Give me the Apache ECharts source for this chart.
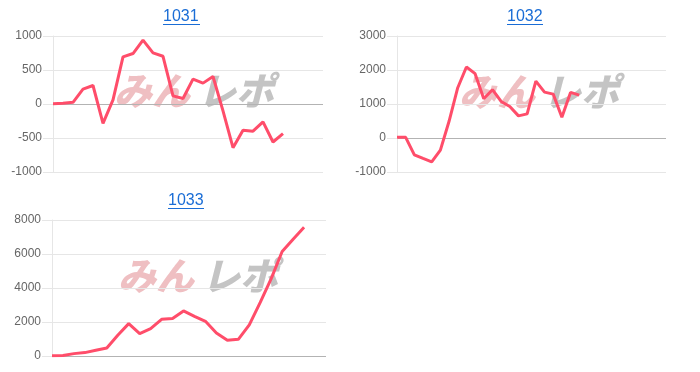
<!DOCTYPE html>
<html><head><meta charset="utf-8">
<script src="https://cdn.jsdelivr.net/npm/echarts@6/dist/echarts.min.js"></script>
<style>html,body{margin:0;padding:0;background:#fff}#c{width:700px;height:372px}</style>
</head><body><div id="c"></div>
<script>
const titles = ['1031', '1032', '1033'];
const categories1 = ['1','2','3','4','5','6','7','8','9','10','11','12','13','14','15','16','17','18','19','20','21','22','23','24','25','26','27','28'];
const categories2 = ['1','2','3','4','5','6','7','8','9','10','11','12','13','14','15','16','17','18','19','20','21','22','23','24','25','26','27','28','29','30','31','32'];
const categories3 = ['1','2','3','4','5','6','7','8','9','10','11','12','13','14','15','16','17','18','19','20','21','22','23','24','25','26'];
const values1 = [5, 10, 25, 218, 272, -286, 60, 693, 742, 940, 752, 702, 120, 80, 366, 307, 405, -100, -643, -386, -400, -262, -559, -435];
const values2 = [20, 20, -494, -600, -700, -355, 491, 1479, 2089, 1893, 1154, 1420, 1074, 926, 651, 710, 1675, 1349, 1290, 611, 1340, 1260];
const values3 = [20, 30, 140, 200, 335, 470, 1220, 1905, 1320, 1610, 2160, 2200, 2650, 2335, 2040, 1350, 924, 980, 1830, 3150, 4550, 6150, 6870, 7570];
const yTicks1 = [-1000, -500, 0, 500, 1000];
const yTicks2 = [-1000, 0, 1000, 2000, 3000];
const yTicks3 = [0, 2000, 4000, 6000, 8000];

const LINE = '#ff4d6a';
const BLUE = '#1a6dd6';
const GRID = '#e6e6e6';
const ZERO = '#b3b3b3';
const FONT = '"Liberation Sans", Arial, sans-serif';

function yAxisFor(ticks, idx) {
  const interval = ticks[1] - ticks[0];
  return {
    type: 'value', gridIndex: idx,
    min: ticks[0], max: ticks[ticks.length - 1], interval: interval,
    axisLine: { show: true, lineStyle: { color: GRID, width: 1 } },
    axisTick: { show: true, length: 10, lineStyle: { color: GRID } },
    axisLabel: { color: '#666', fontSize: 12, fontFamily: FONT, margin: 11, formatter: v => String(v) },
    splitLine: { show: true, lineStyle: { color: ticks.map(t => t === 0 ? ZERO : GRID), width: 1 } }
  };
}
function xAxisFor(cats, idx) {
  return {
    type: 'category', gridIndex: idx, data: cats, boundaryGap: false,
    axisLine: { show: false }, axisTick: { show: false }, axisLabel: { show: false }, splitLine: { show: false }
  };
}
function seriesFor(vals, idx) {
  return {
    type: 'line', xAxisIndex: idx, yAxisIndex: idx, data: vals,
    symbol: 'none', lineStyle: { width: 3, color: LINE }, itemStyle: { color: LINE }, z: 5
  };
}
const titlePos = [[163, 9], [507, 9], [168, 193]];
const underline = [[163, 200, 24.5], [507, 543, 24.5], [168, 204, 208.5]];
const logoPos = [[114, 72], [459, 73], [118, 257]];

const graphics = [];
underline.forEach(u => graphics.push({ type: 'line', shape: { x1: u[0], y1: u[2], x2: u[1], y2: u[2] }, style: { stroke: BLUE, lineWidth: 1 } }));
logoPos.forEach(p => {
  graphics.push({ type: 'text', x: p[0], y: p[1], z: 0, style: { text: 'みん', fontSize: 38, fontWeight: 900, fontStyle: 'italic', fontFamily: '"Noto Sans CJK JP"', fill: '#efbfc2' } });
  graphics.push({ type: 'text', x: p[0] + 84, y: p[1], z: 0, style: { text: 'レポ', fontSize: 38, fontWeight: 900, fontStyle: 'italic', fontFamily: '"Noto Sans CJK JP"', fill: '#c4c4c4' } });
});

const chart = echarts.init(document.getElementById('c'));
chart.setOption({
  animation: false,
  title: titles.map((t, i) => ({
    text: t, left: titlePos[i][0], top: titlePos[i][1], padding: 0,
    textStyle: { color: BLUE, fontSize: 16, fontWeight: 'normal', fontFamily: FONT }
  })),
  grid: [
    { left: 53, top: 36, width: 270, height: 136 },
    { left: 397, top: 36, width: 269, height: 136 },
    { left: 52, top: 220, width: 274, height: 136 }
  ],
  xAxis: [xAxisFor(categories1, 0), xAxisFor(categories2, 1), xAxisFor(categories3, 2)],
  yAxis: [yAxisFor(yTicks1, 0), yAxisFor(yTicks2, 1), yAxisFor(yTicks3, 2)],
  series: [seriesFor(values1, 0), seriesFor(values2, 1), seriesFor(values3, 2)],
  graphic: graphics
});
</script></body></html>
